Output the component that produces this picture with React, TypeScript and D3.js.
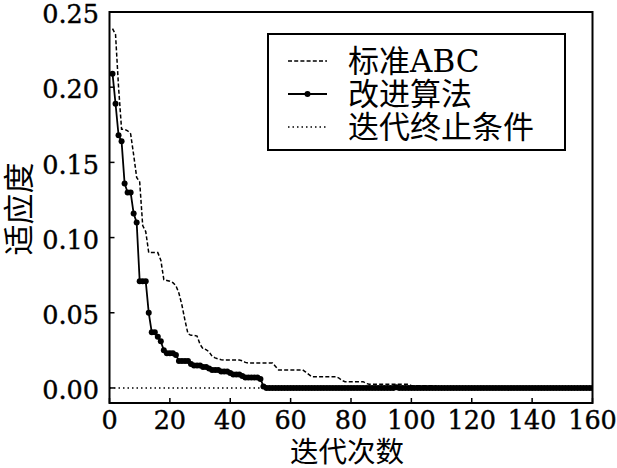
import React from "react";
import * as d3 from "d3";

// 迭代次数 1..160
const iterations = d3.range(1, 161);

// 标准ABC 适应度
const abcValues = [
  0.239, 0.235, 0.2, 0.172, 0.172, 0.171, 0.169, 0.155, 0.14, 0.137,
  0.108, 0.104, 0.09, 0.09, 0.09, 0.09, 0.085, 0.072, 0.0715, 0.071,
  0.07, 0.068, 0.063, 0.055, 0.045, 0.036, 0.035, 0.035, 0.0345, 0.029,
  0.026, 0.0255, 0.024, 0.021, 0.02, 0.0193, 0.0188, 0.0186, 0.0186, 0.0186,
  0.0186, 0.0186, 0.0186, 0.018, 0.017, 0.0166, 0.0166, 0.0166, 0.0166, 0.0166,
  0.0166, 0.0166, 0.0166, 0.0166, 0.0143, 0.012, 0.012, 0.012, 0.012, 0.012,
  0.012, 0.012, 0.012, 0.012, 0.0106, 0.009, 0.0075, 0.0075, 0.0075, 0.0075,
  0.0075, 0.0075, 0.0075, 0.0075, 0.0075, 0.0066, 0.005, 0.0042, 0.0042, 0.0042,
  0.0042, 0.0042, 0.0042, 0.0042, 0.003, 0.0025, 0.0025, 0.0025, 0.0025, 0.0025,
  0.0025, 0.0025, 0.0025, 0.0025, 0.0025, 0.0025, 0.0025, 0.0025, 0.0025, 0.0015,
  0.0015, 0.0015, 0.0015, 0.0015, 0.0015, 0.0015, 0.0015, 0.0015, 0.0003, 0.0003,
  0.0003, 0.0003, 0.0003, 0.0003, 0.0003, 0.0003, 0.0003, 0.0003, 0.0003, 0.0003,
  0.0003, 0.0003, 0.0003, 0.0003, 0.0003, 0.0003, 0.0003, 0.0003, 0.0003, 0.0003,
  0.0003, 0.0003, 0.0003, 0.0003, 0.0003, 0.0003, 0.0003, 0.0003, 0.0003, 0.0003,
  0.0003, 0.0003, 0.0003, 0.0003, 0.0003, 0.0003, 0.0003, 0.0003, 0.0003, 0.0003,
  0.0003, 0.0003, 0.0003, 0.0003, 0.0003, 0.0003, 0.0003, 0.0003, 0.0003, 0.0003,
];

// 改进算法 适应度
const improvedValues = [
  0.209, 0.189, 0.168, 0.164, 0.136, 0.13, 0.13, 0.116, 0.11, 0.071,
  0.071, 0.071, 0.05, 0.037, 0.037, 0.034, 0.031, 0.025, 0.023, 0.023,
  0.023, 0.022, 0.018, 0.018, 0.018, 0.018, 0.016, 0.015, 0.015, 0.015,
  0.014, 0.014, 0.013, 0.012, 0.012, 0.012, 0.011, 0.011, 0.011, 0.01,
  0.009, 0.009, 0.009, 0.008, 0.007, 0.007, 0.007, 0.007, 0.007, 0.006,
  0.001, 0, 0, 0, 0, 0, 0, 0, 0, 0,
  0, 0, 0, 0, 0, 0, 0, 0, 0, 0,
  0, 0, 0, 0, 0, 0, 0, 0, 0, 0,
  0, 0, 0, 0, 0, 0, 0, 0, 0, 0,
  0, 0, 0, 0, 0.0005, 0, 0, 0, 0, 0,
  0, 0, 0, 0, 0, 0, 0, 0, 0, 0,
  0, 0, 0, 0, 0, 0, 0, 0, 0, 0,
  0, 0, 0, 0, 0, 0, 0, 0, 0, 0,
  0, 0, 0, 0, 0, 0, 0, 0, 0, 0,
  0, 0, 0, 0, 0, 0, 0, 0, 0, 0,
  0, 0, 0, 0, 0, 0, 0, 0, 0, 0,
];

const terminationLevel = 0;

const xTicks = [0, 20, 40, 60, 80, 100, 120, 140, 160];
const yTicks = [0, 0.05, 0.1, 0.15, 0.2, 0.25];
const legendLabels = ["标准ABC", "改进算法", "迭代终止条件"];

const W = 617;
const H = 468;
const plot = { left: 109.5, right: 592.5, top: 12, bottom: 403 };
const serif = "'DejaVu Serif', 'Noto Sans CJK SC', serif";

export default function App() {
  const x = d3.scaleLinear().domain([0, 160]).range([plot.left, plot.right]);
  const y = d3.scaleLinear().domain([-0.01, 0.25]).range([plot.bottom, plot.top]);

  const seriesLine = d3
    .line<number>()
    .x((_, i) => x(iterations[i]))
    .y((d) => y(d));

  const legend = { x: 268, y: 34, w: 297, h: 116 };
  const rowY = [61, 94, 127];
  const sx1 = 288;
  const sx2 = 327;

  return (
    <div style={{ position: "absolute", left: 0, top: 0 }}>
      <svg width={W} height={H} style={{ display: "block", background: "#fff" }}>
        <defs>
          <clipPath id="plotClip">
            <rect x={plot.left} y={plot.top} width={plot.right - plot.left} height={plot.bottom - plot.top} />
          </clipPath>
        </defs>

        <g clipPath="url(#plotClip)">
          {/* 迭代终止条件 */}
          <line
            x1={x(0)}
            x2={x(160)}
            y1={y(terminationLevel)}
            y2={y(terminationLevel)}
            stroke="#000"
            strokeWidth={1.4}
            strokeDasharray="1.5,3"
          />
          {/* 标准ABC */}
          <path d={seriesLine(abcValues) || ""} fill="none" stroke="#000" strokeWidth={1.5} strokeDasharray="4,2.2" />
          {/* 改进算法 */}
          <path d={seriesLine(improvedValues) || ""} fill="none" stroke="#000" strokeWidth={1.8} />
          {improvedValues.map((v, i) => (
            <circle key={i} cx={x(iterations[i])} cy={y(v)} r={3} fill="#000" />
          ))}
        </g>

        {/* frame */}
        <rect
          x={plot.left}
          y={plot.top}
          width={plot.right - plot.left}
          height={plot.bottom - plot.top}
          fill="none"
          stroke="#000"
          strokeWidth={2}
        />

        {/* x ticks */}
        {xTicks.map((t) => (
          <g key={t}>
            <line x1={x(t)} x2={x(t)} y1={plot.bottom} y2={plot.bottom - 5} stroke="#000" strokeWidth={1.5} />
            <text
              x={x(t)}
              y={429}
              textAnchor="middle"
              fontFamily={serif}
              fontSize={25.5}
              fill="#000"
              stroke="#000"
              strokeWidth={0.4}
            >
              {t}
            </text>
          </g>
        ))}

        {/* y ticks */}
        {yTicks.map((t) => (
          <g key={t}>
            <line x1={plot.left} x2={plot.left + 5} y1={y(t)} y2={y(t)} stroke="#000" strokeWidth={1.5} />
            <text
              x={99}
              y={y(t) + 2}
              dy="0.36em"
              textAnchor="end"
              fontFamily={serif}
              fontSize={25.5}
              fill="#000"
              stroke="#000"
              strokeWidth={0.4}
            >
              {d3.format(".2f")(t)}
            </text>
          </g>
        ))}

        {/* axis titles */}
        <text
          x={(plot.left + plot.right) / 2 - 4}
          y={461.5}
          textAnchor="middle"
          fontFamily={serif}
          fontSize={28.5}
          fill="#000"
        >
          迭代次数
        </text>
        <text
          transform={`translate(30, ${209}) rotate(-90)`}
          textAnchor="middle"
          fontFamily={serif}
          fontSize={31}
          fill="#000"
        >
          适应度
        </text>

        {/* legend */}
        <rect x={legend.x} y={legend.y} width={legend.w} height={legend.h} fill="#fff" stroke="#000" strokeWidth={2} />
        <line x1={sx1} x2={sx2} y1={rowY[0]} y2={rowY[0]} stroke="#000" strokeWidth={1.5} strokeDasharray="4,2.2" />
        <line x1={sx1} x2={sx2} y1={rowY[1]} y2={rowY[1]} stroke="#000" strokeWidth={1.8} />
        <circle cx={(sx1 + sx2) / 2} cy={rowY[1]} r={3} fill="#000" />
        <line x1={sx1} x2={sx2} y1={rowY[2]} y2={rowY[2]} stroke="#000" strokeWidth={1.4} strokeDasharray="1.5,3" />
        {legendLabels.map((label, i) => (
          <text
            key={label}
            x={348}
            y={rowY[i]}
            dy="0.36em"
            fontFamily={serif}
            fontSize={31}
            fill="#000"
          >
            {label}
          </text>
        ))}
      </svg>
    </div>
  );
}
